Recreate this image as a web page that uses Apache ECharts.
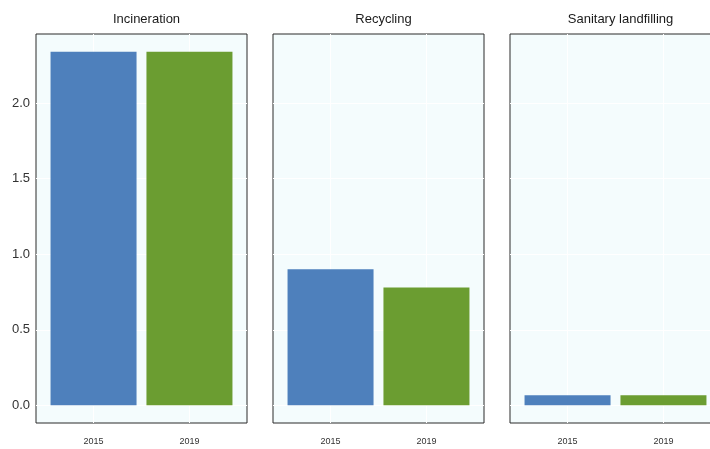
<!DOCTYPE html>
<html>
<head>
<meta charset="utf-8">
<script src="https://cdn.jsdelivr.net/npm/echarts@6/dist/echarts.min.js"></script>
<style>
  html, body { margin: 0; padding: 0; background: #fff; }
  #chart { width: 710px; height: 449px; }
</style>
</head>
<body>
<div id="chart"></div>
<script>
// dados
const panels = ['Incineration', 'Recycling', 'Sanitary landfilling'];
const years = ['2015', '2019'];
const values2015 = [2.34, 0.90, 0.066];
const values2019 = [2.34, 0.78, 0.066];
const yTicks = [0, 0.5, 1.0, 1.5, 2.0];
const yearColors = ['#4E80BC', '#6B9D31'];

const chart = echarts.init(document.getElementById('chart'));

const panelLeft = 36;
const panelWidth = 211;
const panelStep = 237;
const font = 'Liberation Sans, Arial, sans-serif';

const grids = [], xAxes = [], yAxes = [], titles = [], series = [];

panels.forEach((name, i) => {
    const left = panelLeft + i * panelStep;
    grids.push({
        left: left, top: 34, width: panelWidth, height: 389,
        outerBoundsMode: 'none', containLabel: false,
        show: true, backgroundColor: '#F4FCFD',
        borderColor: '#2b2b2b', borderWidth: 1
    });
    titles.push({
        text: name,
        left: left + panelWidth / 2, top: 8,
        textAlign: 'center',
        textStyle: { fontFamily: font, fontSize: 13, fontWeight: 'normal', color: '#1a1a1a' }
    });
    xAxes.push({
        type: 'value', gridIndex: i, min: 0.4, max: 2.6,
        axisLine: { show: false },
        axisTick: { show: false, customValues: [1, 2] },
        splitLine: { show: true, lineStyle: { color: '#ffffff', width: 1 } },
        axisLabel: {
            customValues: [1, 2],
            formatter: v => years[Math.round(v) - 1],
            fontFamily: font, fontSize: 9, color: '#333', margin: 14
        }
    });
    yAxes.push({
        type: 'value', gridIndex: i, min: -0.117, max: 2.457,
        axisLine: { show: false },
        axisTick: { show: false, customValues: yTicks },
        splitLine: { show: true, lineStyle: { color: '#ffffff', width: 1 } },
        axisLabel: {
            show: i === 0,
            customValues: yTicks,
            formatter: v => v.toFixed(1),
            fontFamily: font, fontSize: 13, color: '#333', margin: 6
        }
    });
    series.push({
        type: 'bar', xAxisIndex: i, yAxisIndex: i,
        barWidth: 86,
        data: [
            { value: [1, values2015[i]], itemStyle: { color: yearColors[0] } },
            { value: [2, values2019[i]], itemStyle: { color: yearColors[1] } }
        ]
    });
});

chart.setOption({
    animation: false,
    backgroundColor: '#ffffff',
    title: titles,
    grid: grids,
    xAxis: xAxes,
    yAxis: yAxes,
    series: series
});

window.addEventListener('resize', () => chart.resize());
</script>
</body>
</html>
